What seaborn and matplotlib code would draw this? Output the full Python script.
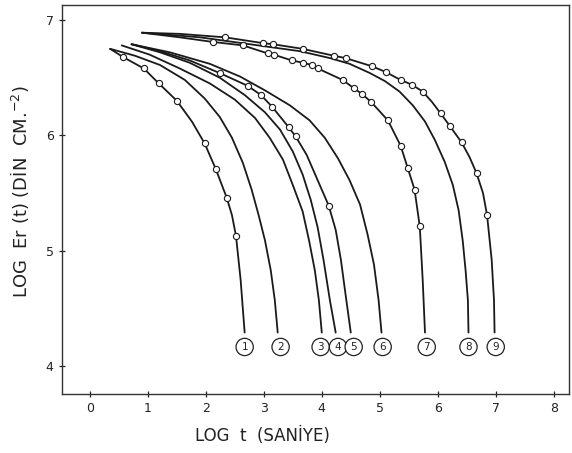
import pandas as pd
import seaborn as sns
import matplotlib.pyplot as plt

# values (log t vs log Er(t))
line1_t = [0.35, 0.57, 0.93, 1.19, 1.50, 1.76, 1.98, 2.17, 2.36, 2.45, 2.52, 2.60, 2.67]
line1_e = [6.75, 6.68, 6.58, 6.45, 6.30, 6.12, 5.93, 5.71, 5.46, 5.31, 5.13, 4.75, 4.29]
line2_t = [0.35, 0.78, 1.21, 1.64, 1.98, 2.24, 2.45, 2.64, 2.79, 2.91, 3.02, 3.12, 3.19, 3.24]
line2_e = [6.75, 6.69, 6.61, 6.48, 6.32, 6.16, 5.98, 5.76, 5.53, 5.31, 5.09, 4.83, 4.57, 4.29]
line3_t = [0.55, 1.03, 1.55, 2.07, 2.50, 2.85, 3.10, 3.33, 3.50, 3.67, 3.78, 3.88, 3.95, 4.00]
line3_e = [6.78, 6.70, 6.58, 6.45, 6.31, 6.15, 5.98, 5.79, 5.57, 5.34, 5.09, 4.83, 4.57, 4.29]
line4_t = [0.72, 1.21, 1.72, 2.24, 2.67, 3.02, 3.28, 3.50, 3.67, 3.81, 3.93, 4.03, 4.14, 4.24]
line4_e = [6.79, 6.72, 6.63, 6.50, 6.35, 6.20, 6.05, 5.86, 5.66, 5.44, 5.20, 4.92, 4.57, 4.29]
line5_t = [0.72, 1.21, 1.72, 2.24, 2.72, 2.95, 3.14, 3.43, 3.55, 3.74, 3.93, 4.12,
           4.24, 4.33, 4.41, 4.50]
line5_e = [6.79, 6.73, 6.65, 6.54, 6.43, 6.35, 6.25, 6.07, 5.99, 5.83, 5.61, 5.39,
           5.18, 4.92, 4.62, 4.29]
line6_t = [0.72, 1.38, 2.07, 2.59, 3.02, 3.45, 3.79, 4.05, 4.28, 4.48, 4.66, 4.79,
           4.90, 4.98, 5.03]
line6_e = [6.79, 6.72, 6.62, 6.51, 6.39, 6.26, 6.13, 5.98, 5.80, 5.61, 5.40, 5.14,
           4.88, 4.57, 4.29]
line7_t = [0.90, 1.55, 2.12, 2.64, 3.07, 3.17, 3.48, 3.67, 3.83, 3.93, 4.36, 4.55,
           4.69, 4.85, 5.14, 5.36, 5.48, 5.60, 5.69, 5.74, 5.78]
line7_e = [6.89, 6.85, 6.81, 6.78, 6.71, 6.70, 6.65, 6.63, 6.61, 6.58, 6.48, 6.41,
           6.36, 6.29, 6.13, 5.91, 5.72, 5.53, 5.21, 4.75, 4.29]
line8_t = [0.90, 1.90, 2.76, 3.62, 4.14, 4.48, 4.83, 5.09, 5.34, 5.57, 5.78, 5.95,
           6.12, 6.26, 6.36, 6.43, 6.48, 6.52, 6.53]
line8_e = [6.89, 6.85, 6.79, 6.73, 6.67, 6.62, 6.54, 6.47, 6.38, 6.26, 6.12, 5.96,
           5.77, 5.57, 5.35, 5.09, 4.83, 4.57, 4.29]
line9_t = [0.90, 1.55, 2.33, 2.98, 3.16, 3.67, 4.21, 4.41, 4.86, 5.10, 5.36, 5.55,
           5.74, 5.90, 6.05, 6.21, 6.41, 6.55, 6.67, 6.78, 6.85, 6.93, 6.97, 6.98]
line9_e = [6.89, 6.88, 6.85, 6.80, 6.79, 6.75, 6.69, 6.67, 6.60, 6.55, 6.48, 6.44,
           6.38, 6.29, 6.19, 6.08, 5.94, 5.81, 5.67, 5.50, 5.31, 4.92, 4.57, 4.29]

# measured points (open circles)
marks1_t = [0.57, 0.93, 1.19, 1.50, 1.98, 2.17, 2.36, 2.52]
marks1_e = [6.68, 6.58, 6.45, 6.30, 5.93, 5.71, 5.46, 5.13]
marks5_t = [2.24, 2.72, 2.95, 3.14, 3.43, 3.55, 4.12]
marks5_e = [6.54, 6.43, 6.35, 6.25, 6.07, 5.99, 5.39]
marks7_t = [2.12, 2.64, 3.07, 3.17, 3.48, 3.67, 3.83, 3.93, 4.36, 4.55, 4.69,
            4.85, 5.14, 5.36, 5.48, 5.60, 5.69]
marks7_e = [6.81, 6.78, 6.71, 6.70, 6.65, 6.63, 6.61, 6.58, 6.48, 6.41, 6.36,
            6.29, 6.13, 5.91, 5.72, 5.53, 5.21]
marks9_t = [2.33, 2.98, 3.16, 3.67, 4.21, 4.41, 4.86, 5.10, 5.36, 5.55, 5.74,
            6.05, 6.21, 6.41, 6.67, 6.85]
marks9_e = [6.85, 6.80, 6.79, 6.75, 6.69, 6.67, 6.60, 6.55, 6.48, 6.44, 6.38,
            6.19, 6.08, 5.94, 5.67, 5.31]

curve_names = ["1", "2", "3", "4", "5", "6", "7", "8", "9"]
label_t = [2.67, 3.29, 3.98, 4.28, 4.55, 5.05, 5.81, 6.53, 7.00]
label_e = 4.165

x_ticks = [0, 1, 2, 3, 4, 5, 6, 7, 8]
y_ticks = [4, 5, 6, 7]


def build_frames():
    lines_t = [line1_t, line2_t, line3_t, line4_t, line5_t, line6_t, line7_t, line8_t, line9_t]
    lines_e = [line1_e, line2_e, line3_e, line4_e, line5_e, line6_e, line7_e, line8_e, line9_e]
    parts = []
    for name, t, e in zip(curve_names, lines_t, lines_e):
        parts.append(pd.DataFrame({"curve": name, "logt": t, "logE": e}))
    lines = pd.concat(parts, ignore_index=True)

    mparts = []
    for t, e in [(marks1_t, marks1_e), (marks5_t, marks5_e),
                 (marks7_t, marks7_e), (marks9_t, marks9_e)]:
        mparts.append(pd.DataFrame({"logt": t, "logE": e}))
    marks = pd.concat(mparts, ignore_index=True)
    return lines, marks


def main():
    sns.set_style("ticks")
    plt.rcParams["font.family"] = ["DejaVu Sans"]

    lines, marks = build_frames()

    fig = plt.figure(figsize=(5.72, 4.53), dpi=100)
    ax = fig.add_axes([0.1084, 0.1302, 0.886, 0.8587])

    for name in curve_names:
        sub = lines[lines["curve"] == name]
        sns.lineplot(data=sub, x="logt", y="logE", sort=False, estimator=None,
                     color="#1a1a1a", lw=1.3, ax=ax)

    sns.scatterplot(data=marks, x="logt", y="logE", s=20, facecolor="white",
                    edgecolor="#1a1a1a", linewidth=0.8, zorder=5, ax=ax)

    # circled curve numbers
    for name, t in zip(curve_names, label_t):
        ax.text(t, label_e, name, ha="center", va="center", fontsize=7.5,
                color="#222222",
                bbox=dict(boxstyle="circle,pad=0.35", fc="white", ec="#222222", lw=0.9))

    ax.set_xlim(-0.48, 8.26)
    ax.set_ylim(3.757, 7.13)
    ax.set_xticks(x_ticks)
    ax.set_yticks(y_ticks)
    ax.tick_params(direction="inout", length=5, width=0.9, labelsize=9,
                   colors="#222222")

    for side in ["top", "right", "left", "bottom"]:
        ax.spines[side].set_visible(True)
        ax.spines[side].set_color("#333333")
        ax.spines[side].set_linewidth(1.0)

    ax.set_xlabel("LOG  t  (SANİYE)", fontsize=12, color="#222222")
    ax.xaxis.set_label_coords(0.396, -0.085)
    ax.set_ylabel("LOG  Er (t) (DİN  CM.$^{-2}$)", fontsize=13, color="#222222")
    ax.yaxis.set_label_coords(-0.062, 0.52)

    fig.savefig("out.png", dpi=100, facecolor="white")
    plt.close(fig)


if __name__ == "__main__":
    main()
